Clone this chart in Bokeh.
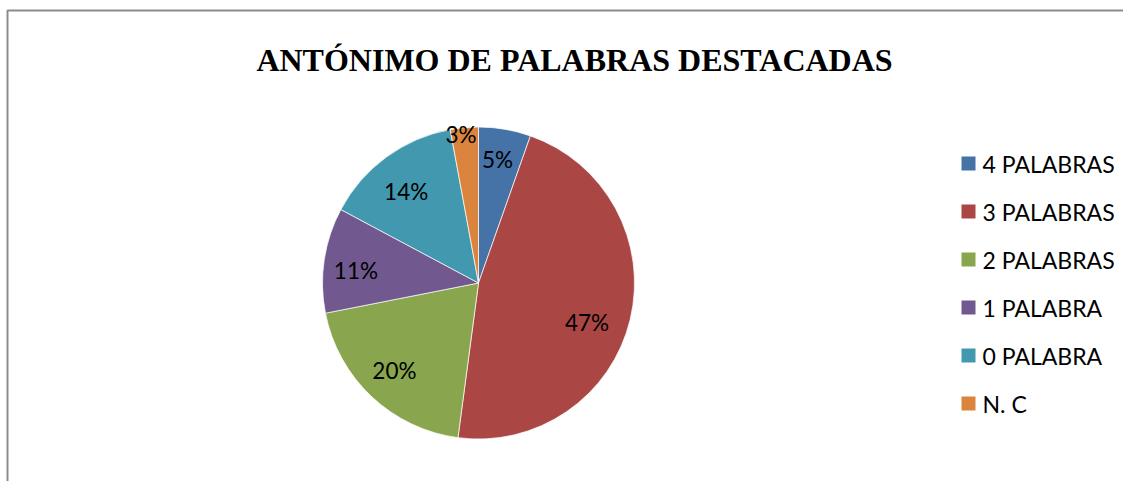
import math
from bokeh.plotting import figure
from bokeh.models import ColumnDataSource
from bokeh.core.properties import value
from bokeh.embed import file_html
from bokeh.resources import INLINE

# ---- data ----
categories = ["4 PALABRAS", "3 PALABRAS", "2 PALABRAS", "1 PALABRA", "0 PALABRA", "N. C"]
percent = [5.4, 46.7, 19.8, 10.9, 14.3, 2.9]
labels = ["5%", "47%", "20%", "11%", "14%", "3%"]
colors = ["#4572A7", "#AA4643", "#89A54E", "#71588F", "#4198AF", "#DB843D"]
title = "ANTÓNIMO DE PALABRAS DESTACADAS"

# ---- layout (pixel positions) ----
W, H = 1123, 481
def X(sx):
    return sx
def Y(sy):
    return H - sy

CX, CY, R = X(478), Y(282.5), 156
label_r = [0.80, 0.74, 0.78, 0.79, 0.75, 0.96]
label_da = [-1.0, 6.5, 0.5, -2.5, -2.0, -1.5]

p = figure(width=W, height=H, x_range=(0, W), y_range=(0, H),
           x_axis_type=None, y_axis_type=None, toolbar_location=None,
           output_backend="svg", min_border=0)
p.outline_line_color = None
p.grid.visible = False
p.background_fill_color = "white"
p.border_fill_color = "white"

# frame (left and top edges visible)
p.line(x=[X(7), X(7), X(W + 20)], y=[Y(500), Y(10), Y(10)],
       line_color="#8c8c8c", line_width=2)

# wedges
total = sum(percent)
starts, ends, lx, ly = [], [], [], []
cum = 0.0
for i, v in enumerate(percent):
    a0 = cum / total * 2 * math.pi
    cum += v
    a1 = cum / total * 2 * math.pi
    starts.append(math.pi / 2 - a1)
    ends.append(math.pi / 2 - a0)
    mid = (a0 + a1) / 2 + math.radians(label_da[i])
    rr = R * label_r[i]
    lx.append(CX + rr * math.sin(mid))
    ly.append(CY + rr * math.cos(mid))

src = ColumnDataSource(dict(start=starts, end=ends, color=colors, lx=lx, ly=ly,
                            label=labels, cat=categories))
p.wedge(x=CX, y=CY, radius=R, radius_units="screen", start_angle="start",
        end_angle="end", fill_color="color", line_color="white", line_width=1,
        line_alpha=0.7, source=src)

p.text(x="lx", y="ly", text="label", source=src, text_align="center",
       text_baseline="middle", text_font=value("Lato"), text_font_size="22.5px",
       text_color="black")

# title
p.text(x=[X(574)], y=[Y(59)], text=[title], text_align="center",
       text_baseline="alphabetic", text_font=value("Liberation Serif"),
       text_font_style="bold", text_font_size="32px", text_color="black")

# legend
leg_y = [Y(163 + 48 * i) for i in range(len(categories))]
lsrc = ColumnDataSource(dict(y=leg_y, color=colors, cat=categories))
p.scatter(x=X(968), y="y", marker="square", size=14, fill_color="color",
          line_color=None, source=lsrc)
p.text(x=X(982), y="y", text="cat", source=lsrc, text_align="left",
       text_baseline="middle", text_font=value("Lato"), text_font_size="23px",
       text_color="black")

open("out.html", "w").write(file_html(p, INLINE))
